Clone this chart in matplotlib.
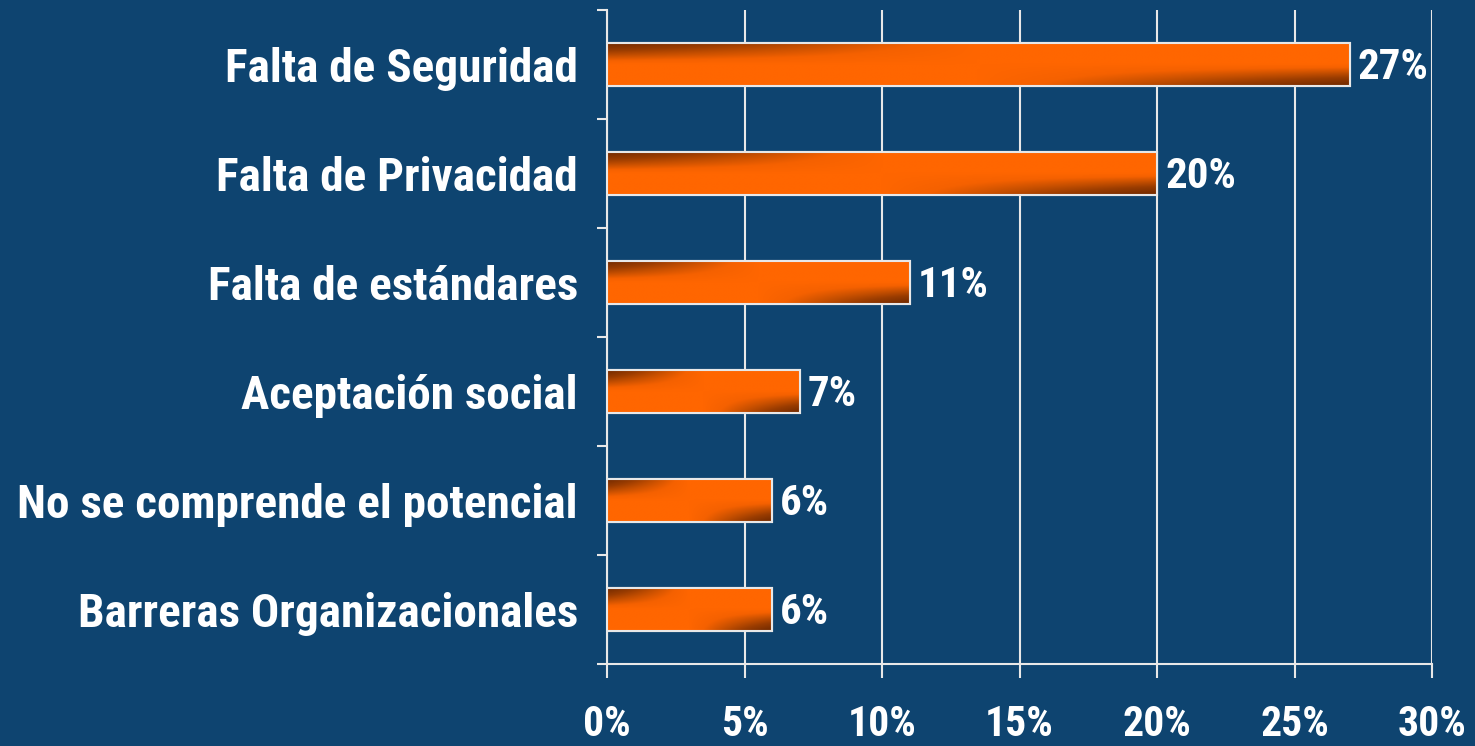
import matplotlib
matplotlib.use("Agg")
import matplotlib.pyplot as plt
import numpy as np
from matplotlib.colors import LinearSegmentedColormap
from matplotlib import font_manager as fm

categories = ["Falta de Seguridad", "Falta de Privacidad", "Falta de estándares",
              "Aceptación social", "No se comprende el potencial", "Barreras Organizacionales"]
values = [27, 20, 11, 7, 6, 6]
xticks = [0, 5, 10, 15, 20, 25, 30]
xtick_labels = ["0%", "5%", "10%", "15%", "20%", "25%", "30%"]

def pick(cands):
    for c in cands:
        try:
            fm.findfont(fm.FontProperties(family=c, weight='bold'), fallback_to_default=False)
            return c
        except Exception:
            pass
    return 'Liberation Sans'

FONT = pick(['Liberation Sans Narrow', 'Arial Narrow', 'Roboto Condensed', 'Archivo Narrow',
             'PT Sans Narrow'])

BG = "#0E4470"
FG = "white"
LINE = "#E8E8E8"
plt.rcParams['font.family'] = [FONT, 'Liberation Sans', 'DejaVu Sans']
plt.rcParams['font.weight'] = 'bold'

fig = plt.figure(figsize=(14.75, 7.46), dpi=100, facecolor=BG)
ax = fig.add_axes([607/1475, 1-664/746, (1432-607)/1475, (664-10)/746])
ax.set_facecolor(BG)

n = len(categories)
ypos = np.arange(n)
h = 0.4
ax.set_xlim(0, 30)
ax.set_ylim(n - 0.5, -0.5)

cmap = LinearSegmentedColormap.from_list("g", ["#FF6600", "#F56100", "#C85000", "#9A3C00", "#7A2E00"])
u = np.linspace(0, 1, 300)[None, :]
v = np.linspace(1, 0, 80)[:, None]
p = (v - 0.5) * (0.5 - u)
t = np.clip(p / 0.22, 0, 1) ** 0.8

for y, val in zip(ypos, values):
    bar = ax.barh(y, val, height=h, color="#FF6600", edgecolor=LINE, linewidth=1.5, zorder=3)[0]
    im = ax.imshow(t, cmap=cmap, vmin=0, vmax=1, aspect='auto',
                   extent=(0, val, y + h/2, y - h/2), origin='upper', zorder=3.5,
                   interpolation='bilinear')
    im.set_clip_path(bar)
    edge = plt.Rectangle((0, y - h/2), val, h, fill=False, edgecolor=LINE, linewidth=1.5, zorder=4)
    ax.add_patch(edge)
    ax.text(val + 0.3, y + 0.03, f"{val}%", color=FG, fontsize=31, fontweight='bold',
            va='center', ha='left', zorder=5)

ax.set_xlim(0, 30)
ax.set_ylim(n - 0.5, -0.5)

ax.set_xticks(xticks)
ax.set_xticklabels(xtick_labels, fontsize=30, fontweight='bold', color=FG)
ax.tick_params(axis='x', colors=LINE, labelcolor=FG, length=10, width=1.5, pad=19, direction='out')
ax.grid(axis='x', color=LINE, linewidth=1.5, zorder=1)
ax.set_axisbelow(True)

ax.set_yticks(ypos)
ax.set_yticklabels(categories, fontsize=34, fontweight='bold', color=FG)
ax.tick_params(axis='y', which='major', length=0, pad=21)
ax.set_yticks(np.arange(n + 1) - 0.5, minor=True)
ax.tick_params(axis='y', which='minor', length=7.5, width=1.5, color=LINE, direction='out')

for sp in ['top', 'right']:
    ax.spines[sp].set_visible(False)
for sp in ['left', 'bottom']:
    ax.spines[sp].set_color(LINE)
    ax.spines[sp].set_linewidth(1.5)

fig.savefig("out.png", dpi=100, facecolor=BG)
